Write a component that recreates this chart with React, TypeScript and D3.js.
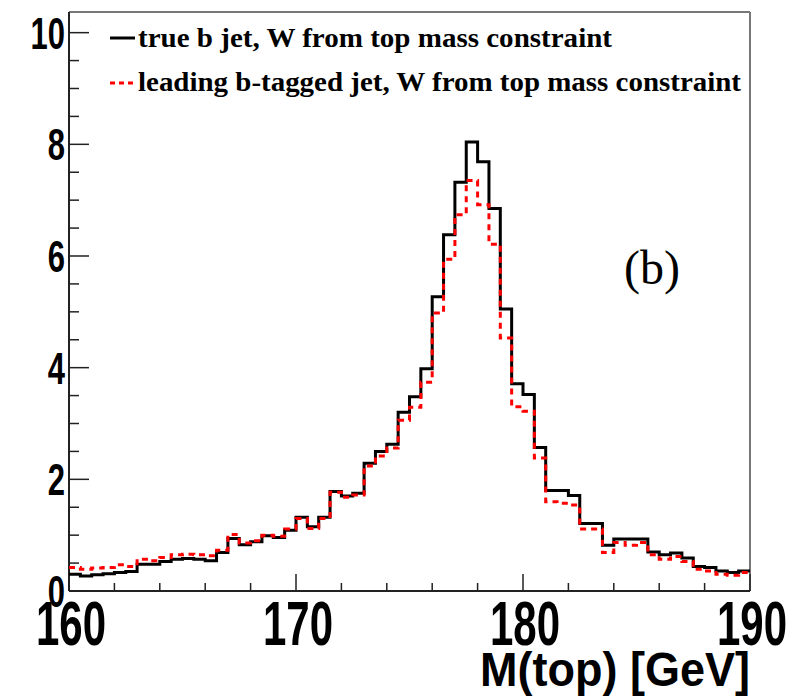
import React from "react";
import * as d3 from "d3";

const binStart = 160;
const binWidth = 0.5;
const trueB = [
  0.30, 0.27, 0.29, 0.31, 0.33, 0.35, 0.48, 0.48, 0.53, 0.57,
  0.58, 0.57, 0.54, 0.69, 0.94, 0.83, 0.88, 0.99, 0.96, 1.09,
  1.32, 1.15, 1.32, 1.78, 1.70, 1.75, 2.29, 2.50, 2.63, 3.20,
  3.48, 3.98, 5.27, 6.38, 7.32, 8.04, 7.69, 6.85, 5.05, 3.71,
  3.52, 2.57, 1.80, 1.80, 1.71, 1.21, 1.21, 0.82, 0.93, 0.93,
  0.93, 0.70, 0.65, 0.68, 0.59, 0.44, 0.42, 0.36, 0.33, 0.36,
];
const leadingB = [
  0.42, 0.39, 0.41, 0.42, 0.47, 0.44, 0.57, 0.54, 0.60, 0.65,
  0.66, 0.65, 0.63, 0.73, 1.01, 0.86, 0.90, 1.00, 0.98, 1.11,
  1.30, 1.12, 1.30, 1.77, 1.68, 1.72, 2.24, 2.42, 2.56, 3.06,
  3.29, 3.74, 4.98, 5.94, 6.74, 7.35, 6.92, 6.21, 4.53, 3.30,
  3.22, 2.38, 1.60, 1.57, 1.54, 1.11, 1.11, 0.69, 0.87, 0.82,
  0.87, 0.65, 0.57, 0.62, 0.53, 0.39, 0.36, 0.30, 0.28, 0.33,
];
const xTicks = [160, 170, 180, 190];
const yTicks = [0, 2, 4, 6, 8, 10];
const legendLabels = [
  "true b jet, W from top mass constraint",
  "leading b-tagged jet, W from top mass constraint",
];

const W = 787, H = 698;
const L = 69, R = 750, T = 12, B = 591;

export default function App() {
  const x = d3.scaleLinear().domain([160, 190]).range([L, R]);
  const y = d3.scaleLinear().domain([0, 10.37]).range([B, T]);

  const stepPath = (vals: number[]) => {
    const pts: [number, number][] = vals.map((v, i) => [binStart + i * binWidth, v]);
    pts.push([binStart + vals.length * binWidth, vals[vals.length - 1]]);
    return d3.line<[number, number]>()
      .x((d) => x(d[0]))
      .y((d) => y(d[1]))
      .curve(d3.curveStepAfter)(pts) as string;
  };

  const xMinor = d3.range(160, 190.01, 2).filter((v) => v % 10 !== 0);
  const yMinor = d3.range(0, 10.01, 0.5).filter((v) => Math.abs(v % 2) > 1e-6);

  const sans = "'Liberation Sans', Arial, Helvetica, sans-serif";
  const serif = "'Liberation Serif', 'Times New Roman', serif";

  return (
    <svg width={W} height={H} style={{ position: "absolute", left: 0, top: 0, background: "#fff" }}>
      <rect x={0} y={0} width={W} height={H} fill="#fff" />
      {/* frame */}
      <line x1={L} y1={T} x2={R} y2={T} stroke="#777" strokeWidth={2} />
      <line x1={R} y1={T} x2={R} y2={B} stroke="#777" strokeWidth={2} />
      <line x1={L} y1={T} x2={L} y2={B} stroke="#222" strokeWidth={2} />
      <line x1={L} y1={B} x2={R} y2={B} stroke="#222" strokeWidth={2} />
      {/* x ticks */}
      {xTicks.map((t) => (
        <line key={"xt" + t} x1={x(t)} x2={x(t)} y1={B} y2={B - 17} stroke="#222" strokeWidth={1.5} />
      ))}
      {xMinor.map((t) => (
        <line key={"xm" + t} x1={x(t)} x2={x(t)} y1={B} y2={B - 8} stroke="#222" strokeWidth={1.5} />
      ))}
      {/* y ticks */}
      {yTicks.map((t) => (
        <line key={"yt" + t} x1={L} x2={L + 20} y1={y(t)} y2={y(t)} stroke="#222" strokeWidth={1.5} />
      ))}
      {yMinor.map((t) => (
        <line key={"ym" + t} x1={L} x2={L + 10} y1={y(t)} y2={y(t)} stroke="#222" strokeWidth={1.5} />
      ))}
      {/* histograms */}
      <path d={stepPath(trueB)} fill="none" stroke="#000" strokeWidth={3} />
      <path d={stepPath(leadingB)} fill="none" stroke="#ff0000" strokeWidth={3} strokeDasharray="6 5" />
      {/* y labels */}
      {yTicks.map((t) => (
        <text key={"yl" + t} transform={`translate(${L - 4},${y(t) + 16}) scale(1,1.45)`}
          textAnchor="end" fontFamily={sans} fontWeight="bold" fontSize={31}>
          {t}
        </text>
      ))}
      {/* x labels */}
      {xTicks.map((t) => (
        <text key={"xl" + t} transform={`translate(${x(t) + 2},${645}) scale(1,1.5)`}
          textAnchor="middle" fontFamily={sans} fontWeight="bold" fontSize={42}>
          {t}
        </text>
      ))}
      {/* axis title */}
      <text transform={`translate(${R},${686}) scale(1,1.08)`} textAnchor="end"
        fontFamily={sans} fontWeight="bold" fontSize={45}>
        M(top) [GeV]
      </text>
      {/* legend */}
      <line x1={110} x2={135} y1={38} y2={38} stroke="#000" strokeWidth={3} />
      <line x1={110} x2={135} y1={83} y2={83} stroke="#ff0000" strokeWidth={3} strokeDasharray="5 4" />
      <text x={138} y={47} fontFamily={serif} fontWeight="bold" fontSize={27}
        textLength={474} lengthAdjust="spacingAndGlyphs">{legendLabels[0]}</text>
      <text x={138} y={91} fontFamily={serif} fontWeight="bold" fontSize={27}
        textLength={603} lengthAdjust="spacingAndGlyphs">{legendLabels[1]}</text>
      {/* panel label */}
      <text x={624} y={284} fontFamily={serif} fontSize={48}>(b)</text>
    </svg>
  );
}
